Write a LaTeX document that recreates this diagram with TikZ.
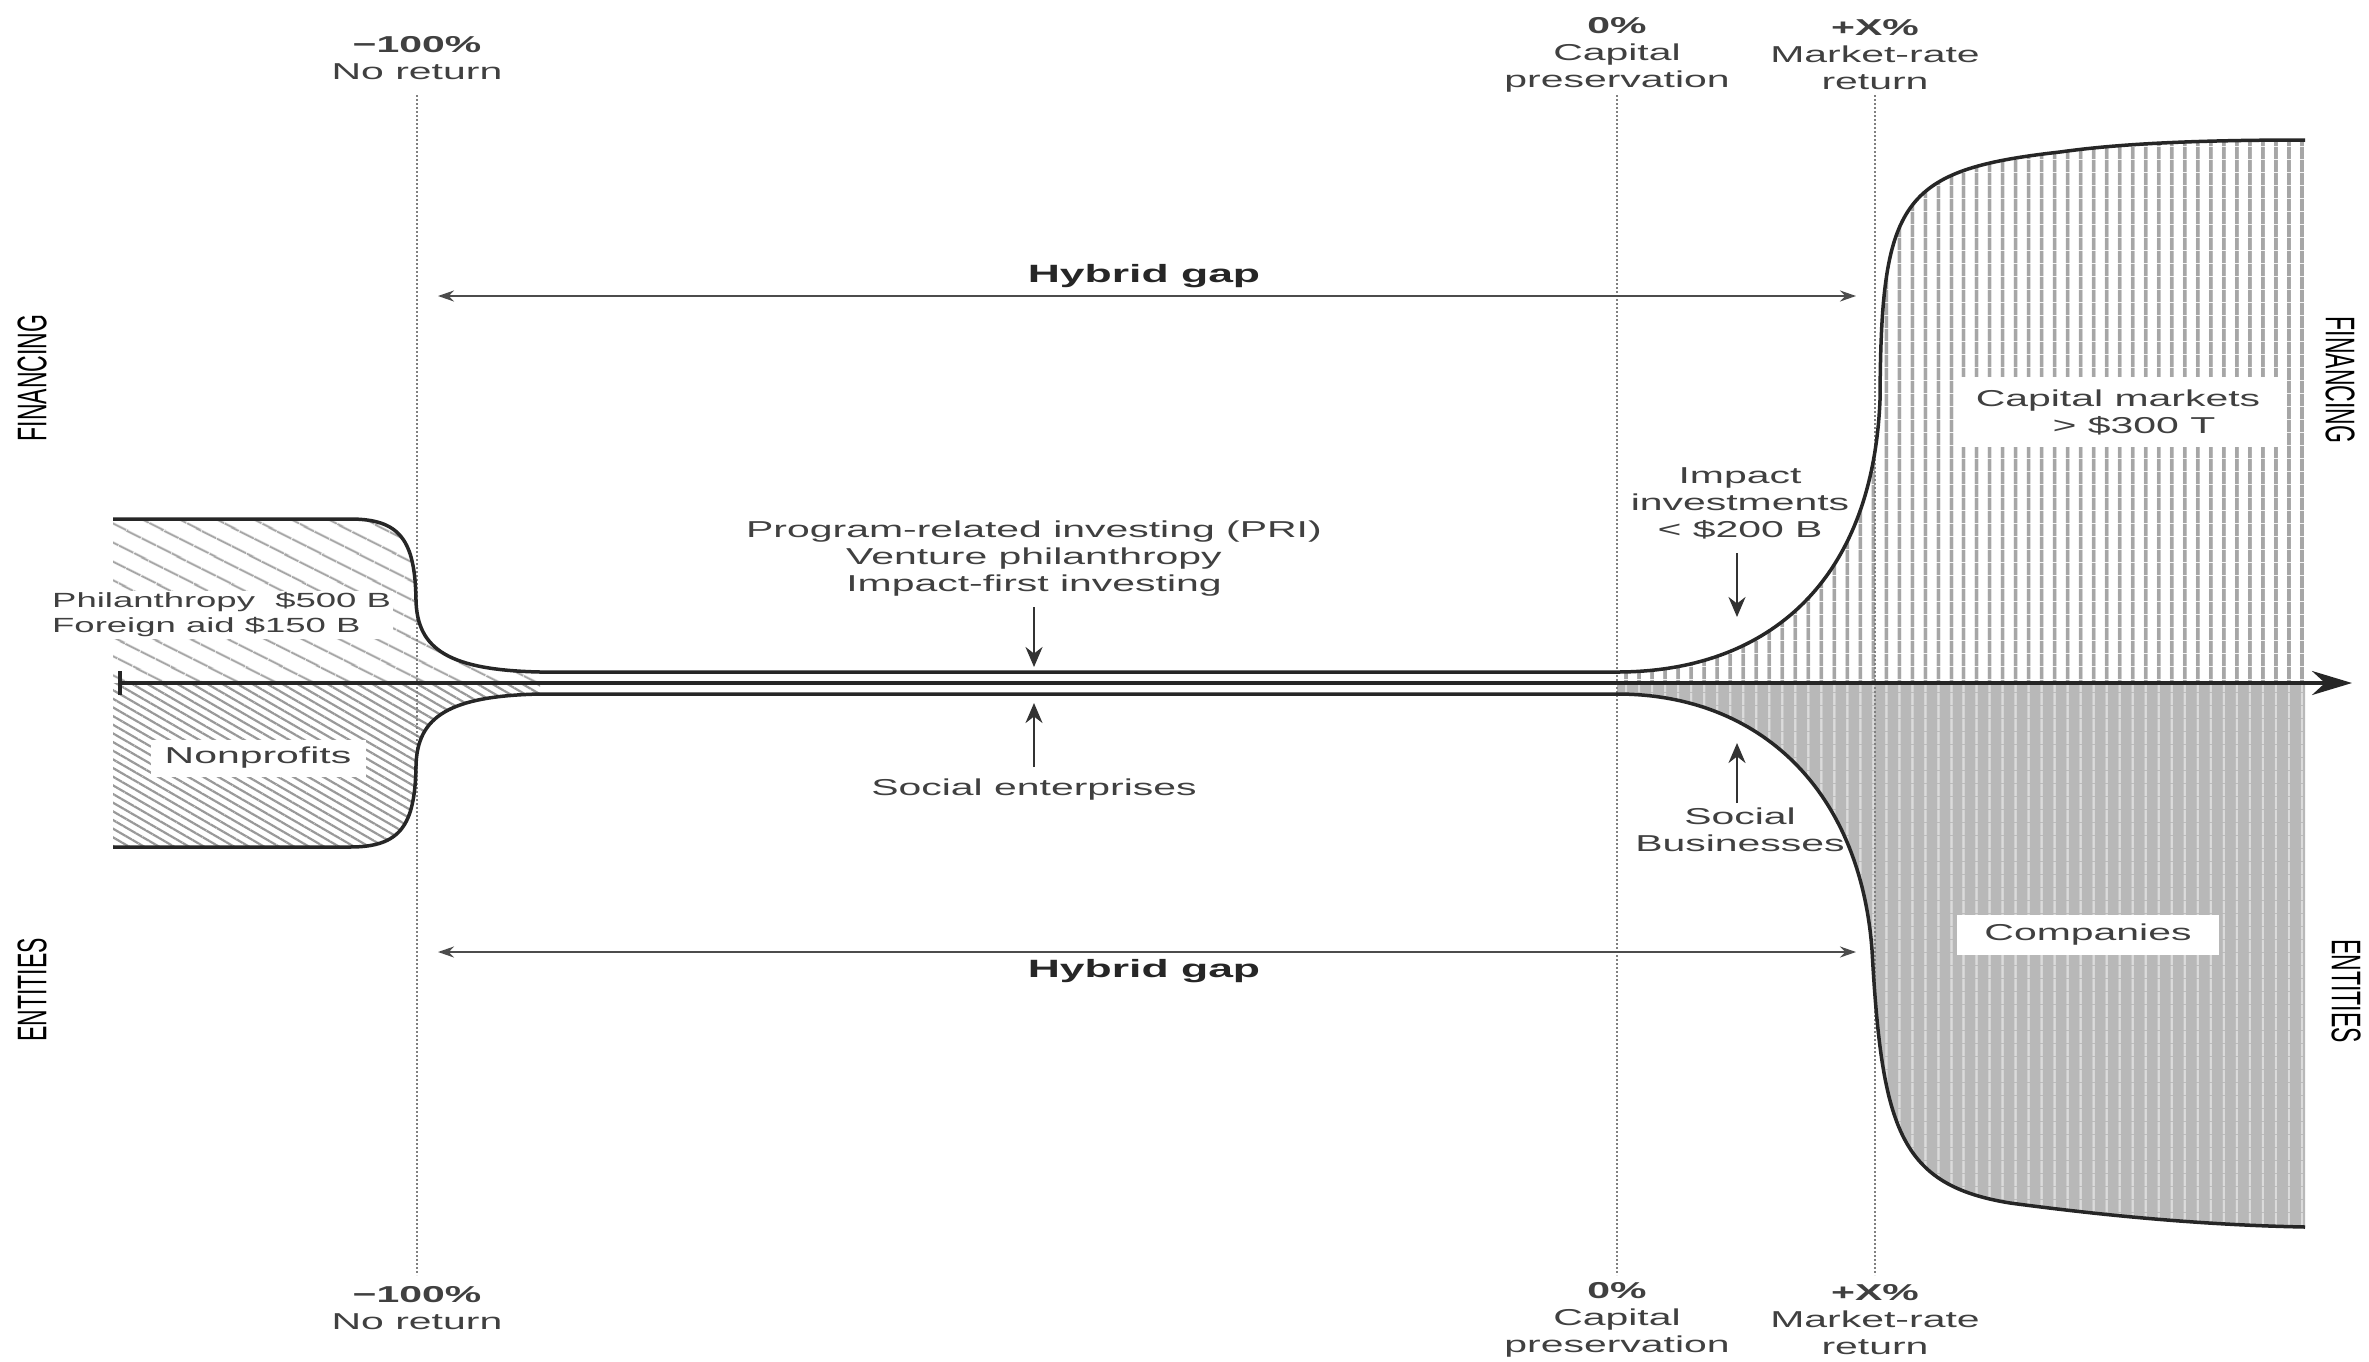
\documentclass[tikz,border=0pt]{standalone}
\usepackage{fontspec}
\usepackage{graphicx}
\setmainfont[FakeStretch=1.78]{Liberation Sans}
\newfontfamily\plainsans{Liberation Sans}
\usetikzlibrary{arrows.meta,patterns.meta}
\begin{document}
\begin{tikzpicture}[x=1pt,y=-1pt,
  lbl/.style={text=black!75,font=\fontsize{23}{27}\selectfont,align=center,inner sep=0pt},
  leftlbl/.style={text=black!75,font=\fontsize{20.5}{25}\selectfont,align=left,inner sep=2pt,fill=white},
  boxlbl/.style={text=black!75,font=\fontsize{23}{27}\selectfont,align=center,fill=white,inner sep=0pt},
  hglbl/.style={text=black!85,font=\fontsize{25}{29}\selectfont\bfseries,inner sep=0pt},
  rotlbl/.style={text=black,font=\plainsans\fontsize{23}{27}\selectfont,inner sep=0pt},
  curveline/.style={line width=3.5pt,draw=black!85},
  axisline/.style={line width=3.5pt,draw=black!85,{Bar[width=24pt,line width=4pt]}-{Stealth[length=40pt,width=24pt]}},
  vline/.style={line width=2.5pt,draw=black!50,dash pattern=on 2pt off 2pt},
  hgarrow/.style={line width=2pt,draw=black!70,{Stealth[length=16pt,width=11pt]}-{Stealth[length=16pt,width=11pt]}},
  smallarrow/.style={line width=2.5pt,draw=black!80,-{Stealth[length=20pt,width=17pt]}}
]
\useasboundingbox (0,0) rectangle (2369,1361);
\fill[white] (0,0) rectangle (2369,1361);

% ---------- fills ----------
\path[pattern={Lines[angle=-27,distance=17pt,line width=2.3pt]},pattern color=black!35]
  (113,683) -- (113,519) -- (350,519) .. controls (400,519) and (415,540) .. (416,600)
  .. controls (417,650) and (450,670) .. (540,672) -- (540,683) -- cycle;
\path[pattern={Lines[angle=-30,distance=7.5pt,line width=2.2pt]},pattern color=black!40]
  (113,683) -- (113,847) -- (350,847) .. controls (400,847) and (415,826) .. (416,766)
  .. controls (417,716) and (450,696) .. (540,694) -- (540,683) -- cycle;
\path[pattern={Lines[angle=90,distance=13pt,line width=4pt]},pattern color=black!35]
  (1617,683) -- (1617,672) .. controls (1760,672) and (1872,590) .. (1880,400)
  .. controls (1881,200) and (1900,170) .. (2060,152)
  .. controls (2110,145) and (2180,140) .. (2305,140) -- (2305,683) -- cycle;
\path[preaction={fill=black!28},pattern={Lines[angle=90,distance=13pt,line width=2pt]},pattern color=black!14]
  (1617,683) -- (1617,694) .. controls (1760,694) and (1860,790) .. (1872,950)
  .. controls (1882,1130) and (1900,1185) .. (2010,1203)
  .. controls (2100,1215) and (2200,1225) .. (2305,1227) -- (2305,683) -- cycle;

% ---------- boxes on fills ----------
\node[boxlbl,minimum width=320pt,minimum height=70pt] (capm) at (2118,412)
  {Capital markets\\\hspace*{32pt}> \$300 T};
\node[boxlbl,minimum width=262pt,minimum height=40pt] (comp) at (2088,935) {Companies};
\node[boxlbl,minimum width=215pt,minimum height=37pt] (nonp) at (258,758) {Nonprofits};
\node[leftlbl,anchor=west] (phil) at (50,615) {Philanthropy\ \ \$500 B\\Foreign aid \$150 B};

% ---------- vertical dotted lines ----------
\coordinate (v1t) at (417,95);  \coordinate (v1b) at (417,1275);
\coordinate (v2t) at (1617,95); \coordinate (v2b) at (1617,1275);
\coordinate (v3t) at (1875,95); \coordinate (v3b) at (1875,1275);
\draw[vline] (v1t) -- (v1b);
\draw[vline] (v2t) -- (v2b);
\draw[vline] (v3t) -- (v3b);

% ---------- curves ----------
\draw[curveline] (113,519) -- (350,519) .. controls (400,519) and (415,540) .. (416,600)
  .. controls (417,650) and (450,670) .. (540,672) -- (1617,672)
  .. controls (1760,672) and (1872,590) .. (1880,400)
  .. controls (1881,200) and (1900,170) .. (2060,152)
  .. controls (2110,145) and (2180,140) .. (2305,140);
\draw[curveline] (113,847) -- (350,847) .. controls (400,847) and (415,826) .. (416,766)
  .. controls (417,716) and (450,696) .. (540,694) -- (1617,694)
  .. controls (1760,694) and (1860,790) .. (1872,950)
  .. controls (1882,1130) and (1900,1185) .. (2010,1203)
  .. controls (2100,1215) and (2200,1225) .. (2305,1227);

% ---------- axis ----------
\coordinate (axL) at (118,683);
\coordinate (axR) at (2352,683);
\draw[axisline] (axL) -- (axR);

% ---------- top / bottom labels ----------
\node[lbl] (tL) at (417,58) {{\bfseries −100\%}\\No return};
\node[lbl] (tM) at (1617,55) {{\bfseries 0\%}\\Capital\\preservation};
\node[lbl] (tR) at (1875,55) {{\bfseries +X\%}\\Market-rate\\return};
\node[lbl] (bL) at (417,1308) {{\bfseries −100\%}\\No return};
\node[lbl] (bM) at (1617,1320) {{\bfseries 0\%}\\Capital\\preservation};
\node[lbl] (bR) at (1875,1320) {{\bfseries +X\%}\\Market-rate\\return};

% ---------- hybrid gap ----------
\node[hglbl] (hg1) at (1144,276) {Hybrid gap};
\node[hglbl] (hg2) at (1144,971) {Hybrid gap};
\coordinate (hg1L) at (438,296); \coordinate (hg1R) at (1856,296);
\coordinate (hg2L) at (438,952); \coordinate (hg2R) at (1856,952);
\draw[hgarrow] (hg1L) -- (hg1R);
\draw[hgarrow] (hg2L) -- (hg2R);

% ---------- middle labels ----------
\node[lbl] (pri) at (1034,559) {Program-related investing (PRI)\\Venture philanthropy\\Impact-first investing};
\node[lbl] (se) at (1034,790) {Social enterprises};
\coordinate (priA) at (1034,607); \coordinate (priB) at (1034,667);
\coordinate (seA) at (1034,767);  \coordinate (seB) at (1034,703);
\draw[smallarrow] (priA) -- (priB);
\draw[smallarrow] (seA) -- (seB);

\node[lbl] (imp) at (1740,503) {Impact\\investments\\< \$200 B};
\node[lbl] (sb) at (1740,830) {Social\\Businesses};
\coordinate (impA) at (1737,553); \coordinate (impB) at (1737,617);
\coordinate (sbA) at (1737,803);  \coordinate (sbB) at (1737,743);
\draw[smallarrow] (impA) -- (impB);
\draw[smallarrow] (sbA) -- (sbB);

% ---------- side labels ----------
\node[rotlbl,rotate=90] (finL) at (32,378) {\scalebox{1}[1.8]{FINANCING}};
\node[rotlbl,rotate=90] (entL) at (32,990) {\scalebox{1}[1.8]{ENTITIES}};
\node[rotlbl,rotate=-90] (finR) at (2340,380) {\scalebox{1}[1.8]{FINANCING}};
\node[rotlbl,rotate=-90] (entR) at (2346,991) {\scalebox{1}[1.8]{ENTITIES}};
\end{tikzpicture}
\end{document}
